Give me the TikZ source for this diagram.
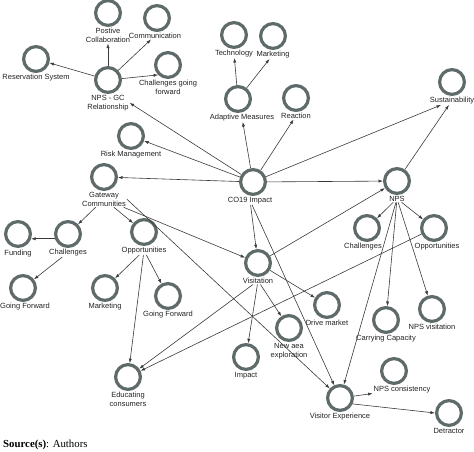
\documentclass[tikz,border=0pt]{standalone}
\usepackage{fontspec}
\setmainfont{Liberation Serif}
\setsansfont{Liberation Sans}
\usepackage{tikz}
\usetikzlibrary{positioning,arrows.meta}
\definecolor{ring}{HTML}{5F6B6A}
\definecolor{edge}{HTML}{3A3A3A}
\definecolor{ink}{HTML}{222222}

\begin{document}
\begin{tikzpicture}[x=1pt, y=-1pt,
  every node/.style={font=\sffamily\fontsize{7.5}{9}\selectfont, text=ink},
  concept/.style={circle, draw=ring, line width=3.2pt, minimum size=24.8pt, inner sep=0pt},
  tag/.style={align=center, inner sep=0.8pt},
  arrow/.style={->, >={Latex[length=4.5pt,width=3.2pt]}, line width=0.6pt, color=edge}
]
\useasboundingbox (0,0) rectangle (474,452);

% Circles
\node[concept] (poscol)  at (108,13)  {};
\node[concept] (comm)    at (157,18)  {};
\node[concept] (resv)    at (36,59)   {};
\node[concept] (npsgc)   at (108,80)  {};
\node[concept] (cgf)     at (168,65)  {};
\node[concept] (tech)    at (234,35)  {};
\node[concept] (mkt1)    at (273,36)  {};
\node[concept] (adapt)   at (238,99)  {};
\node[concept] (react)   at (296,98)  {};
\node[concept] (sust)    at (452,82)  {};
\node[concept] (risk)    at (131,136) {};
\node[concept] (gc)      at (104,177) {};
\node[concept] (co19)    at (253,182) {};
\node[concept] (nps)     at (397,181) {};
\node[concept] (fund)    at (18,234)  {};
\node[concept] (chal1)   at (68,234)  {};
\node[concept] (opp1)    at (144,232) {};
\node[concept] (gf1)     at (23,288)  {};
\node[concept] (mkt2)    at (105,288) {};
\node[concept] (gf2)     at (168,296) {};
\node[concept] (edu)     at (128,377) {};
\node[concept] (visit)   at (258,263) {};
\node[concept] (chal2)   at (367,228) {};
\node[concept] (opp2)    at (434,228) {};
\node[concept] (drive)   at (327,305) {};
\node[concept] (newx)    at (289,328) {};
\node[concept] (impact)  at (246,357) {};
\node[concept] (carry)   at (386,320) {};
\node[concept] (npsv)    at (432,309) {};
\node[concept] (npscons) at (394,371) {};
\node[concept] (vexp)    at (340,398) {};
\node[concept] (detr)    at (449,413) {};

% Labels
\node[tag, below=0pt of poscol] (poscol-l) {Postive\\Collaboration};
\node[tag, below=0pt of comm, xshift=-2pt] (comm-l) {Communication};
\node[tag, below=0pt of resv] (resv-l) {Reservation System};
\node[tag, below=0pt of npsgc] (npsgc-l) {NPS - GC\\Relationship};
\node[tag, below=0pt of cgf] (cgf-l) {Challenges going\\forward};
\node[tag, below=0pt of tech] (tech-l) {Technology};
\node[tag, below=0pt of mkt1] (mkt1-l) {Marketing};
\node[tag, below=0pt of adapt, xshift=4pt] (adapt-l) {Adaptive Measures};
\node[tag, below=0pt of react] (react-l) {Reaction};
\node[tag, below=0pt of sust] (sust-l) {Sustainability};
\node[tag, below=0pt of risk] (risk-l) {Risk Management};
\node[tag, below=0pt of gc] (gc-l) {Gateway\\Communities};
\node[tag, below=0pt of co19, xshift=-3pt] (co19-l) {CO19 Impact};
\node[tag, below=0pt of nps] (nps-l) {NPS};
\node[tag, below=1.5pt of fund] (fund-l) {Funding};
\node[tag, below=0pt of chal1] (chal1-l) {Challenges};
\node[tag, below=0pt of opp1] (opp1-l) {Opportunities};
\node[tag, below=0pt of gf1, xshift=2pt] (gf1-l) {Going Forward};
\node[tag, below=0pt of mkt2] (mkt2-l) {Marketing};
\node[tag, below=0pt of gf2] (gf2-l) {Going Forward};
\node[tag, below=0pt of edu] (edu-l) {Educating\\consumers};
\node[tag, below=0pt of visit] (visit-l) {Visitation};
\node[tag, below=0pt of chal2, xshift=-4pt] (chal2-l) {Challenges};
\node[tag, below=0pt of opp2, xshift=3pt] (opp2-l) {Opportunities};
\node[tag, below=0pt of drive] (drive-l) {Drive market};
\node[tag, below=0pt of newx] (newx-l) {New aea\\exploration};
\node[tag, below=0pt of impact] (impact-l) {Impact};
\node[tag, below=0pt of carry] (carry-l) {Carrying Capacity};
\node[tag, below=0pt of npsv] (npsv-l) {NPS visitation};
\node[tag, below=0pt of npscons, xshift=8pt] (npscons-l) {NPS consistency};
\node[tag, below=0pt of vexp] (vexp-l) {Visitor Experience};
\node[tag, below=0pt of detr] (detr-l) {Detractor};

% Source line
\node[anchor=west, inner sep=0pt, text=black,
  font=\rmfamily\fontsize{10.8}{13}\selectfont] (src) at (3,445) {\textbf{Source(s)}: Authors};

% Arrows
\draw[arrow] (npsgc) -- (poscol-l);
\draw[arrow] (npsgc) -- (comm-l);
\draw[arrow] (npsgc) -- (resv);
\draw[arrow] (npsgc) -- (cgf.south west);
\draw[arrow] (co19) -- (npsgc-l.east);
\draw[arrow] (co19) -- (risk);
\draw[arrow] (co19) -- (gc);
\draw[arrow] (co19) -- (adapt-l);
\draw[arrow] (co19) -- (react-l);
\draw[arrow] (co19) -- (sust-l);
\draw[arrow] (co19) -- (nps);
\draw[arrow] (co19-l) -- (visit);
\draw[arrow] (co19-l) -- (vexp);
\draw[arrow] (adapt) -- (tech-l);
\draw[arrow] (adapt) -- (mkt1-l);
\draw[arrow] (nps) -- (sust-l);
\draw[arrow] (visit) -- (nps);
\draw[arrow] (gc-l) -- (visit);
\draw[arrow] (gc-l) -- (chal1);
\draw[arrow] (gc-l) -- (opp1);
\draw[arrow] (gc-l.east) -- (vexp);
\draw[arrow] (chal1.-160) -- (fund.-20);
\draw[arrow] (chal1-l) -- (gf1);
\draw[arrow] (opp1-l) -- (mkt2);
\draw[arrow] (opp1-l) -- (gf2);
\draw[arrow] (opp1-l) -- (edu);
\draw[arrow] (visit-l) -- (edu);
\draw[arrow] (opp2) -- (edu);
\draw[arrow] (visit) -- (drive);
\draw[arrow] (visit-l) -- (newx);
\draw[arrow] (visit-l) -- (impact);
\draw[arrow] (nps-l) -- (chal2);
\draw[arrow] (nps-l) -- (opp2);
\draw[arrow] (nps-l) -- (carry);
\draw[arrow] (nps-l) -- (npsv);
\draw[arrow] (nps-l) -- (vexp);
\draw[arrow] (vexp) -- (npscons-l);
\draw[arrow] (vexp.-25) -- (detr.west);

\end{tikzpicture}
\end{document}
